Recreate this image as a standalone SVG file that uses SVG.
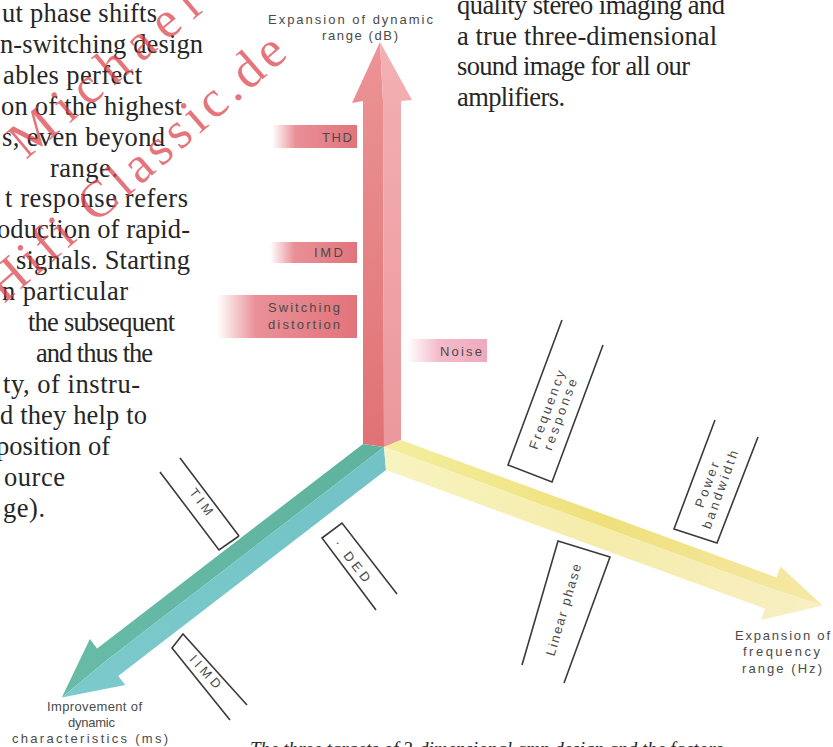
<svg xmlns="http://www.w3.org/2000/svg" width="833" height="747" viewBox="0 0 833 747">
<defs>
<style>
.body{font-family:"Liberation Serif","Times New Roman",serif;font-size:26.5px;fill:#262626}
.cap{font-family:"Liberation Serif","Times New Roman",serif;font-style:italic;font-size:19px;fill:#262626}
.lbl{font-family:"Liberation Sans",Arial,sans-serif;font-size:13px;fill:#4a4a4a}
.box{fill:none;stroke:#3a3a3a;stroke-width:1.6}
.wm{font-family:"Liberation Serif","Times New Roman",serif;font-size:52px;fill:#dc4048;fill-opacity:0.72}
</style>
<linearGradient id="barRed" x1="0" y1="0" x2="1" y2="0">
<stop offset="0" stop-color="#e57c84" stop-opacity="0"/>
<stop offset="0.28" stop-color="#e57c84" stop-opacity="0.85"/>
<stop offset="1" stop-color="#e2737b"/>
</linearGradient>
<linearGradient id="barPink" x1="0" y1="0" x2="1" y2="0">
<stop offset="0" stop-color="#f2b3c4" stop-opacity="0"/>
<stop offset="0.4" stop-color="#f2b3c4" stop-opacity="0.9"/>
<stop offset="1" stop-color="#efaabd"/>
</linearGradient>
<linearGradient id="redL" x1="0" y1="0" x2="0" y2="1">
<stop offset="0" stop-color="#ec9496"/>
<stop offset="1" stop-color="#e07274"/>
</linearGradient>
<linearGradient id="redR" x1="0" y1="0" x2="0" y2="1">
<stop offset="0" stop-color="#f3b0b4"/>
<stop offset="1" stop-color="#eb989c"/>
</linearGradient>
<linearGradient id="yelT" gradientUnits="userSpaceOnUse" x1="384" y1="447" x2="822" y2="605">
<stop offset="0" stop-color="#f3ee9e"/>
<stop offset="0.5" stop-color="#efe07c"/>
<stop offset="1" stop-color="#f6e9a8"/>
</linearGradient>
<linearGradient id="yelB" gradientUnits="userSpaceOnUse" x1="384" y1="447" x2="822" y2="605">
<stop offset="0" stop-color="#f8f4c0"/>
<stop offset="0.5" stop-color="#f5ecaa"/>
<stop offset="1" stop-color="#f8efc4"/>
</linearGradient>
<linearGradient id="tealT" gradientUnits="userSpaceOnUse" x1="384" y1="447" x2="62" y2="697">
<stop offset="0" stop-color="#5fb39e"/>
<stop offset="1" stop-color="#68bba6"/>
</linearGradient>
<linearGradient id="tealB" gradientUnits="userSpaceOnUse" x1="384" y1="447" x2="62" y2="697">
<stop offset="0" stop-color="#72c2c6"/>
<stop offset="1" stop-color="#7ccacb"/>
</linearGradient>
</defs>

<rect width="833" height="747" fill="#ffffff"/>

<g id="body-text-left">
<text class="body" x="2" y="22" textLength="155">ut phase shifts</text>
<text class="body" x="0" y="53" textLength="203">n-switching design</text>
<text class="body" x="3" y="84" textLength="139">ables perfect</text>
<text class="body" x="1" y="115" textLength="181">on of the highest</text>
<text class="body" x="2" y="146" textLength="163">s, even beyond</text>
<text class="body" x="50" y="177" textLength="68">range.</text>
<text class="body" x="5" y="207" textLength="183">t response refers</text>
<text class="body" x="-3" y="238" textLength="193">oduction of rapid-</text>
<text class="body" x="16" y="269" textLength="174">signals. Starting</text>
<text class="body" x="2" y="300" textLength="126">n particular</text>
<text class="body" x="28" y="331" textLength="147">the subsequent</text>
<text class="body" x="36" y="362" textLength="117">and thus the</text>
<text class="body" x="3" y="393" textLength="137">ty, of instru-</text>
<text class="body" x="0" y="424" textLength="147">d they help to</text>
<text class="body" x="-4" y="455" textLength="114">position of</text>
<text class="body" x="4" y="486" textLength="61">ource</text>
<text class="body" x="3" y="517" textLength="42">ge).</text>
</g>

<g id="body-text-right">
<text class="body" x="457" y="14" textLength="268">quality stereo imaging and</text>
<text class="body" x="457" y="45" textLength="260">a true three-dimensional</text>
<text class="body" x="457" y="75" textLength="233">sound image for all our</text>
<text class="body" x="457" y="106" textLength="108">amplifiers.</text>
</g>

<g id="watermark">
<text class="wm" transform="translate(26,160) rotate(-40)" textLength="232">Michael</text>
<text class="wm" transform="translate(4,304) rotate(-41)" textLength="378">Hifi Classic.de</text>
</g>

<g id="connectors">
<g id="axis-dynamic-range">
<polygon points="363,444 363,101 352,103 380,42 383,101 384,447" fill="url(#redL)"/>
<polygon points="384,447 383,101 380,42 412,100 401,101 401,440" fill="url(#redR)"/>
</g>
<g id="axis-dynamic-characteristics">
<polygon points="363,444 384,447 106.4,660.5 61.8,697.6 89.9,639.1 97.1,648.5" fill="url(#tealT)"/>
<polygon points="384,447 386,470 118.2,675.9 125.3,685.1 61.8,697.6 106.4,660.5" fill="url(#tealB)"/>
</g>
<g id="axis-frequency-range">
<polygon points="401,440 384,447 772.2,589.1 822.7,605.4 780.5,566.5 776.5,577.4" fill="url(#yelT)"/>
<polygon points="384,447 386,470 765,608.7 760.9,620.1 822.7,605.4 772.2,589.1" fill="url(#yelB)"/>
</g>
</g>

<g id="axis-label-dynamic-range">
<text class="lbl" x="268" y="24" textLength="165">Expansion of dynamic</text>
<text class="lbl" x="322" y="40" textLength="76">range (dB)</text>
</g>
<g id="axis-label-dynamic-characteristics">
<text class="lbl" x="47" y="711" textLength="95">Improvement of</text>
<text class="lbl" x="68" y="727" textLength="47">dynamic</text>
<text class="lbl" x="12" y="743" textLength="156">characteristics (ms)</text>
</g>
<g id="axis-label-frequency-range">
<text class="lbl" x="735" y="640" textLength="95">Expansion of</text>
<text class="lbl" x="743" y="656" textLength="77">frequency</text>
<text class="lbl" x="742" y="673" textLength="80">range (Hz)</text>
</g>

<g id="node-thd">
<rect x="272" y="125" width="85" height="23" fill="url(#barRed)"/>
<text class="lbl" x="322" y="142" textLength="30">THD</text>
</g>
<g id="node-imd">
<rect x="270" y="242" width="87" height="21" fill="url(#barRed)"/>
<text class="lbl" x="314" y="257" textLength="29">IMD</text>
</g>
<g id="node-switching-distortion">
<rect x="217" y="295" width="140" height="43" fill="url(#barRed)"/>
<text class="lbl" x="268" y="312" textLength="72">Switching</text>
<text class="lbl" x="268" y="329" textLength="72">distortion</text>
</g>
<g id="node-noise">
<rect x="407" y="339" width="80" height="23" fill="url(#barPink)"/>
<text class="lbl" x="440" y="356" textLength="42">Noise</text>
</g>

<g id="node-tim">
<path class="box" d="M239,536 L180,458 M239,536 L219,550 L160,472"/>
<text class="lbl" text-anchor="middle" transform="translate(201,502) rotate(52.6)" y="4" textLength="30">TIM</text>
</g>
<g id="node-ded">
<path class="box" d="M397,594 L342,523 L322,538 L376,610"/>
<text class="lbl" text-anchor="middle" transform="translate(352,561) rotate(52)" y="4" textLength="50">· DED</text>
</g>
<g id="node-iimd">
<path class="box" d="M247,705 L183,634 L172,648 L230,720"/>
<text class="lbl" text-anchor="middle" transform="translate(205,672) rotate(48)" y="4" textLength="40">IIMD</text>
</g>
<g id="node-frequency-response">
<path class="box" d="M562,320 L508,465 L552,482 L603,345"/>
<text class="lbl" text-anchor="middle" transform="translate(553,412) rotate(-70)"><tspan x="0" y="-2" textLength="83">Frequency</tspan><tspan x="0" y="12" textLength="75">response</tspan></text>
</g>
<g id="node-power-bandwidth">
<path class="box" d="M715,420 L674,529 L717,543 L758,437"/>
<text class="lbl" text-anchor="middle" transform="translate(713,487) rotate(-70)"><tspan x="0" y="-2" textLength="47">Power</tspan><tspan x="0" y="12" textLength="82">bandwidth</tspan></text>
</g>
<g id="node-linear-phase">
<path class="box" d="M522,665 L558,541 L610,557 L564,683"/>
<text class="lbl" text-anchor="middle" transform="translate(564,610) rotate(-73.5)" y="4" textLength="95">Linear phase</text>
</g>

<g id="caption">
<text class="cap" x="250" y="755" textLength="473">The three targets of 3-dimensional amp design and the factors</text>
</g>
</svg>
